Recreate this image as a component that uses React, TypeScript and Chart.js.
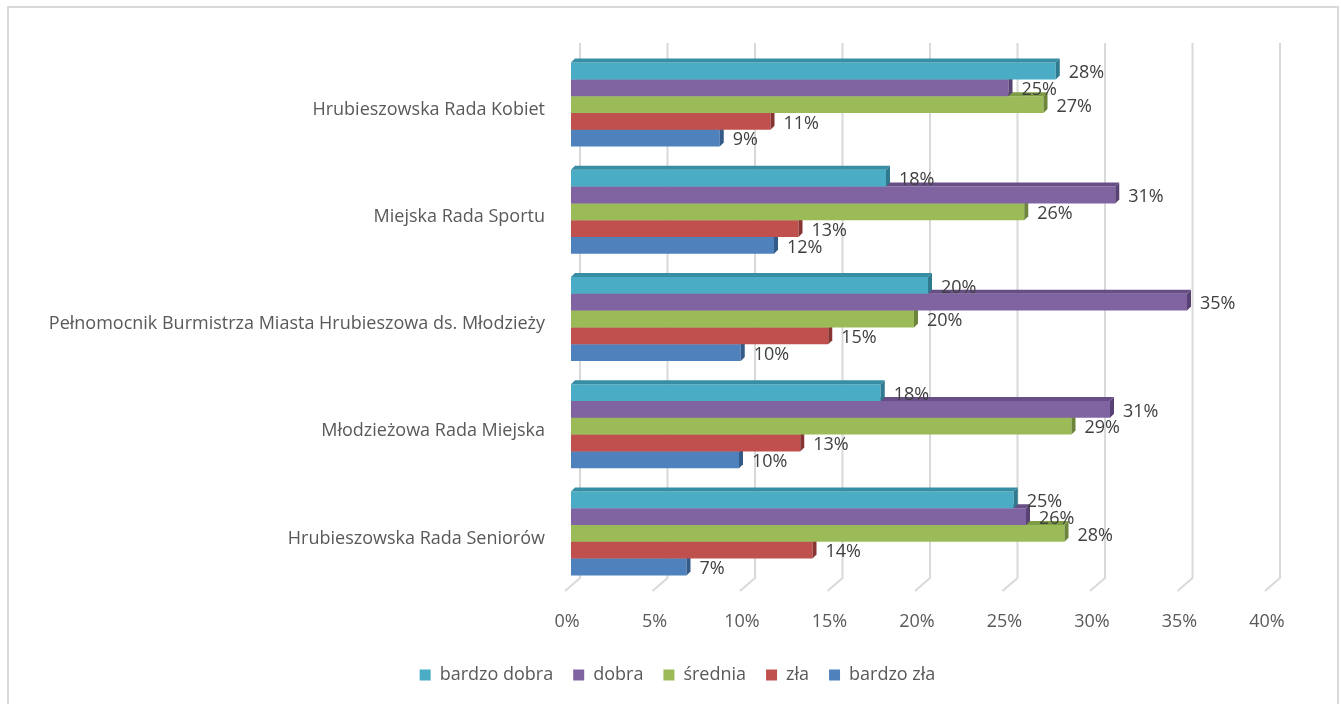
import React, { useEffect, useRef } from "react";
import { Chart, registerables } from "chart.js";

Chart.register(...registerables);

const categories = [
  "Hrubieszowska Rada Kobiet",
  "Miejska Rada Sportu",
  "Pełnomocnik Burmistrza Miasta Hrubieszowa ds. Młodzieży",
  "Młodzieżowa Rada Miejska",
  "Hrubieszowska Rada Seniorów",
];

const seriesNames = ["bardzo dobra", "dobra", "średnia", "zła", "bardzo zła"];

const bardzoDobra = [27.7, 18.0, 20.4, 17.7, 25.3];
const dobra = [25.0, 31.1, 35.2, 30.8, 26.0];
const srednia = [27.0, 25.9, 19.6, 28.6, 28.2];
const zla = [11.4, 13.0, 14.7, 13.1, 13.8];
const bardzoZla = [8.5, 11.6, 9.7, 9.6, 6.6];

const xTicks = [0, 5, 10, 15, 20, 25, 30, 35, 40];

const faceColors = ["#4BACC6", "#8064A2", "#9BBB59", "#C0504D", "#4F81BD"];
const topColors = ["#368DA4", "#674F86", "#7E9B45", "#9E3E3B", "#3D699D"];
const sideColors = ["#2F7A8E", "#574273", "#6B853A", "#883432", "#345A87"];

const FONT = "'Open Sans', sans-serif";
const FS = 18;

const gridPlugin = {
  id: "grid3d",
  beforeDatasetsDraw(chart: any) {
    const ctx = chart.ctx;
    const xs = chart.scales.x;
    ctx.save();
    ctx.strokeStyle = "#D9D9D9";
    ctx.lineWidth = 2;
    xTicks.forEach((v) => {
      const px = xs.getPixelForValue(v);
      ctx.beginPath();
      ctx.moveTo(px + 9, 43);
      ctx.lineTo(px + 9, 578);
      ctx.lineTo(px - 6, 591);
      ctx.stroke();
    });
    ctx.restore();
  },
};

const bar3dPlugin = {
  id: "bar3d",
  afterDatasetDraw(chart: any, args: any) {
    const ctx = chart.ctx;
    const i = args.index;
    const d = 4;
    ctx.save();
    args.meta.data.forEach((el: any) => {
      const p = el.getProps(["x", "y", "base", "height"], true);
      const top = p.y - p.height / 2;
      const bottom = p.y + p.height / 2;
      ctx.fillStyle = topColors[i];
      ctx.beginPath();
      ctx.moveTo(p.base, top);
      ctx.lineTo(p.base + d, top - d);
      ctx.lineTo(p.x + d, top - d);
      ctx.lineTo(p.x, top);
      ctx.closePath();
      ctx.fill();
      ctx.fillStyle = sideColors[i];
      ctx.beginPath();
      ctx.moveTo(p.x, top);
      ctx.lineTo(p.x + d, top - d);
      ctx.lineTo(p.x + d, bottom - d);
      ctx.lineTo(p.x, bottom);
      ctx.closePath();
      ctx.fill();
    });
    ctx.restore();
  },
};

const labelPlugin = {
  id: "valueLabels",
  afterDatasetsDraw(chart: any) {
    const ctx = chart.ctx;
    ctx.save();
    ctx.font = `${FS}px ${FONT}`;
    ctx.fillStyle = "#404040";
    ctx.textAlign = "left";
    ctx.textBaseline = "middle";
    chart.data.datasets.forEach((ds: any, i: number) => {
      const meta = chart.getDatasetMeta(i);
      meta.data.forEach((el: any, j: number) => {
        const p = el.getProps(["x", "y"], true);
        ctx.fillText(Math.round(ds.data[j]) + "%", p.x + 13, p.y + 2);
      });
    });
    ctx.restore();
  },
};

const legendShiftPlugin = {
  id: "legendShift",
  afterLayout(chart: any) {
    const lg = chart.legend;
    if (lg) {
      lg.left += 42;
      lg.right += 42;
    }
  },
};

export default function App() {
  const ref = useRef<HTMLCanvasElement | null>(null);

  useEffect(() => {
    if (!ref.current) return;
    const values = [bardzoDobra, dobra, srednia, zla, bardzoZla];
    const chart = new Chart(ref.current, {
      type: "bar",
      data: {
        labels: categories,
        datasets: seriesNames.map((name, i) => ({
          label: name,
          data: values[i],
          backgroundColor: faceColors[i],
          borderWidth: 0,
          categoryPercentage: 0.784,
          barPercentage: 1.0,
        })),
      },
      options: {
        indexAxis: "y",
        responsive: false,
        animation: false,
        devicePixelRatio: 1,
        layout: { padding: { top: 51, right: 70, left: 0, bottom: 10 } },
        scales: {
          x: {
            min: 0,
            max: 40,
            grid: { display: false },
            border: { display: false },
            ticks: {
              stepSize: 5,
              padding: 16,
              labelOffset: -4,
              color: "#595959",
              font: { family: FONT, size: FS },
              callback: (v: any) => v + "%",
            },
            afterFit: (s: any) => {
              s.height = 59;
            },
          },
          y: {
            grid: { display: false },
            border: { display: false },
            ticks: {
              padding: 18,
              labelOffset: 5,
              color: "#595959",
              font: { family: FONT, size: FS },
            },
            afterFit: (s: any) => {
              s.width = 571;
            },
          },
        },
        plugins: {
          legend: {
            position: "bottom",
            labels: {
              boxWidth: 11,
              boxHeight: 11,
              padding: 20,
              color: "#595959",
              font: { family: FONT, size: FS },
            },
          },
          tooltip: { enabled: false },
        },
      },
      plugins: [gridPlugin, bar3dPlugin, labelPlugin, legendShiftPlugin],
    });
    return () => chart.destroy();
  }, []);

  return (
    <div
      style={{
        position: "fixed",
        left: 0,
        top: 0,
        width: 1341,
        height: 704,
        overflow: "hidden",
        background: "#fff",
      }}
    >
      <div
        style={{
          position: "absolute",
          left: 7,
          top: 6,
          width: 1332,
          height: 740,
          boxSizing: "border-box",
          border: "2px solid #D9D9D9",
        }}
      />
      <canvas
        ref={ref}
        width={1341}
        height={704}
        style={{ position: "absolute", left: 0, top: 0, width: 1341, height: 704 }}
      />
    </div>
  );
}
